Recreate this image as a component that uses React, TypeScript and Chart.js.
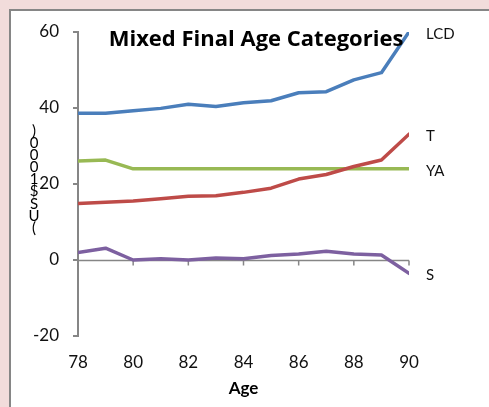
import React, { useEffect, useRef } from "react";
import { Chart, registerables } from "chart.js";

Chart.register(...registerables);

const TITLE = "Mixed Final Age Categories";
const X_TITLE = "Age";
const Y_TITLE = "(US$ 1000)";
const AGES = [78, 79, 80, 81, 82, 83, 84, 85, 86, 87, 88, 89, 90];
const SERIES_NAMES = ["LCD", "T", "YA", "S"];
const LCD = [38.6, 38.6, 39.3, 39.9, 41.0, 40.4, 41.4, 41.9, 44.0, 44.3, 47.4, 49.3, 60.0];
const T = [14.9, 15.2, 15.5, 16.1, 16.8, 16.9, 17.8, 18.9, 21.3, 22.5, 24.6, 26.3, 33.1];
const YA = [26.05, 26.3, 24, 24, 24, 24, 24, 24, 24, 24, 24, 24, 24];
const S = [2.0, 3.1, 0.0, 0.3, 0.0, 0.5, 0.35, 1.2, 1.6, 2.3, 1.6, 1.3, -3.5];
const COLORS = ["#4A7EBB", "#BE4B48", "#98B954", "#7D60A0"];
const Y_MIN = -20;
const Y_MAX = 60;
const Y_STEP = 20;
const X_STEP = 2;

const FONT = "Lato, 'Open Sans', sans-serif";
const TITLE_FONT = "'Open Sans', Lato, sans-serif";
const AXIS_GREY = "#868686";

const bgPlugin = {
  id: "bgPlugin",
  beforeDraw(chart: any) {
    const { ctx, width, height } = chart;
    ctx.save();
    ctx.fillStyle = "#F2DCDB";
    ctx.fillRect(0, 0, width, height);
    ctx.fillStyle = "#FFFFFF";
    ctx.fillRect(10, 10, width, height);
    ctx.strokeStyle = AXIS_GREY;
    ctx.lineWidth = 2;
    ctx.beginPath();
    ctx.moveTo(10, height);
    ctx.lineTo(10, 10);
    ctx.lineTo(width, 10);
    ctx.stroke();
    ctx.restore();
  },
};

const zeroLinePlugin = {
  id: "zeroLinePlugin",
  beforeDatasetsDraw(chart: any) {
    const { ctx, chartArea } = chart;
    const xs = chart.scales.x;
    const ys = chart.scales.y;
    const y0 = Math.round(ys.getPixelForValue(0)) + 0.5;
    ctx.save();
    ctx.strokeStyle = AXIS_GREY;
    ctx.lineWidth = 1.5;
    ctx.beginPath();
    ctx.moveTo(chartArea.left, y0);
    ctx.lineTo(chartArea.right, y0);
    xs.ticks.forEach((t: any) => {
      const px = xs.getPixelForValue(t.value);
      ctx.moveTo(px, y0);
      ctx.lineTo(px, y0 + 5);
    });
    ctx.stroke();
    ctx.restore();
  },
};

const overlayPlugin = {
  id: "overlayPlugin",
  afterDatasetsDraw(chart: any) {
    const { ctx } = chart;
    ctx.save();
    // series labels at the end of each line
    ctx.font = `15px ${FONT}`;
    ctx.fillStyle = "#111";
    ctx.textAlign = "left";
    ctx.textBaseline = "middle";
    chart.data.datasets.forEach((ds: any, i: number) => {
      const meta = chart.getDatasetMeta(i);
      const last = meta.data[meta.data.length - 1];
      if (last) ctx.fillText(ds.label, last.x + 17, last.y + 2);
    });
    // title
    ctx.font = `bold 22px ${TITLE_FONT}`;
    ctx.textAlign = "center";
    ctx.fillStyle = "#000";
    ctx.fillText(TITLE, 256, 40);
    // stacked y title
    ctx.font = `15px ${FONT}`;
    ctx.fillStyle = "#000";
    const chars = Y_TITLE.replace(" ", "").split("").reverse();
    const top = 131;
    const bottom = 228;
    const stepY = (bottom - top) / (chars.length - 1);
    chars.forEach((c, i) => {
      ctx.fillText(c, 34, top + i * stepY);
    });
    ctx.restore();
  },
};

export default function App() {
  const ref = useRef<HTMLCanvasElement | null>(null);
  useEffect(() => {
    if (!ref.current) return;
    const seriesValues = [LCD, T, YA, S];
    const chart = new Chart(ref.current, {
      type: "line",
      data: {
        datasets: seriesValues.map((vals, i) => ({
          label: SERIES_NAMES[i],
          data: AGES.map((a, j) => ({ x: a, y: vals[j] })),
          borderColor: COLORS[i],
          backgroundColor: COLORS[i],
          borderWidth: 3.5,
          pointRadius: 0,
          tension: 0,
          borderCapStyle: "round",
          borderJoinStyle: "round",
        })),
      },
      options: {
        animation: false,
        responsive: false,
        events: [],
        layout: { padding: { left: 0, right: 80, top: 32, bottom: 0 } },
        plugins: { legend: { display: false }, tooltip: { enabled: false } },
        scales: {
          x: {
            type: "linear",
            min: AGES[0],
            max: AGES[AGES.length - 1],
            ticks: {
              stepSize: X_STEP,
              padding: 8,
              color: "#111",
              font: { family: FONT, size: 17 },
            },
            grid: { display: false },
            border: { display: false },
            title: {
              display: true,
              text: X_TITLE,
              color: "#000",
              font: { family: FONT, size: 17, weight: "bold" },
              padding: { top: 0, bottom: 8 },
            },
            afterFit(scale: any) {
              scale.height = 71;
            },
          },
          y: {
            min: Y_MIN,
            max: Y_MAX,
            ticks: {
              stepSize: Y_STEP,
              padding: 14,
              color: "#111",
              font: { family: FONT, size: 17 },
            },
            grid: {
              drawOnChartArea: false,
              drawTicks: true,
              tickLength: 5,
              color: AXIS_GREY,
              lineWidth: 2,
            },
            border: { display: true, color: AXIS_GREY, width: 2 },
            afterFit(scale: any) {
              scale.width = 78;
            },
          },
        },
      },
      plugins: [bgPlugin, zeroLinePlugin, overlayPlugin],
    } as any);
    return () => chart.destroy();
  }, []);
  return (
    <div style={{ position: "fixed", left: 0, top: 0, width: 489, height: 407 }}>
      <canvas ref={ref} width={489} height={407} style={{ display: "block" }} />
    </div>
  );
}
